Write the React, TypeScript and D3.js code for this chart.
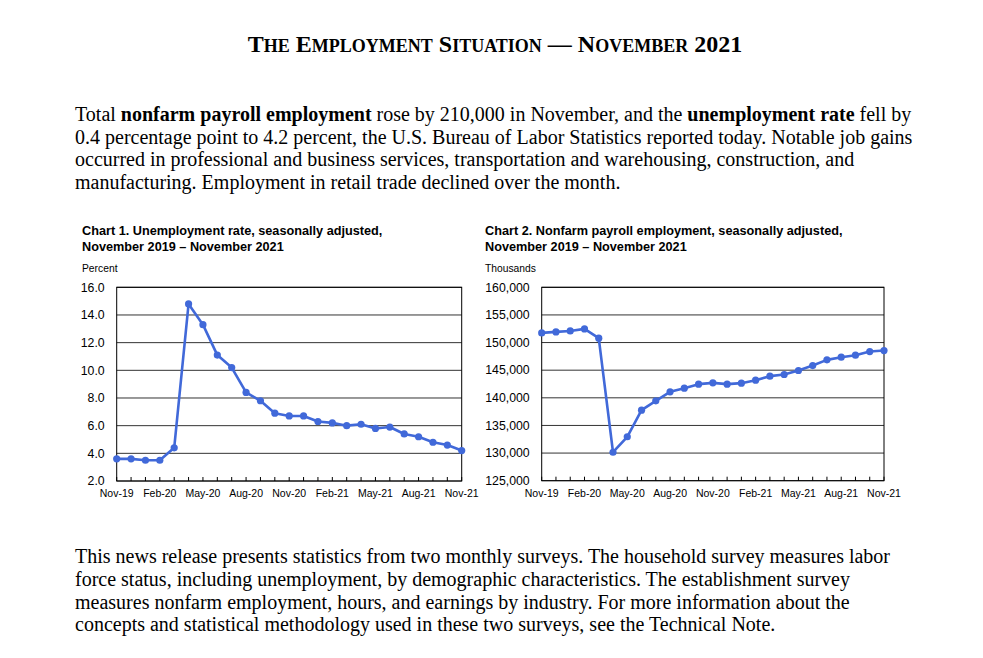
import React from 'react';
import * as d3 from 'd3';

const months = [
  'Nov-19', 'Dec-19', 'Jan-20', 'Feb-20', 'Mar-20', 'Apr-20', 'May-20', 'Jun-20', 'Jul-20',
  'Aug-20', 'Sep-20', 'Oct-20', 'Nov-20', 'Dec-20', 'Jan-21', 'Feb-21', 'Mar-21', 'Apr-21',
  'May-21', 'Jun-21', 'Jul-21', 'Aug-21', 'Sep-21', 'Oct-21', 'Nov-21',
];

const unemploymentRate = [
  3.6, 3.6, 3.5, 3.5, 4.4, 14.8, 13.3, 11.1, 10.2, 8.4, 7.8, 6.9, 6.7, 6.7, 6.3, 6.2, 6.0,
  6.1, 5.8, 5.9, 5.4, 5.2, 4.8, 4.6, 4.2,
];

const payrollThousands = [
  151750, 151930, 152100, 152470, 150800, 130150, 132950, 137770, 139460, 141080, 141750,
  142470, 142710, 142470, 142650, 143190, 143920, 144220, 144940, 145840, 146870, 147350,
  147710, 148370, 148550,
];

const rateTicks = [2, 4, 6, 8, 10, 12, 14, 16];
const payrollTicks = [125000, 130000, 135000, 140000, 145000, 150000, 155000, 160000];

const headline = ['The', 'Employment', 'Situation', '—', 'November', '2021'];

const topParagraph = [
  [
    { t: 'Total ' },
    { t: 'nonfarm payroll employment', b: true },
    { t: ' rose by 210,000 in November, and the ' },
    { t: 'unemployment rate', b: true },
    { t: ' fell by' },
  ],
  [{ t: '0.4 percentage point to 4.2 percent, the U.S. Bureau of Labor Statistics reported today. Notable job gains' }],
  [{ t: 'occurred in professional and business services, transportation and warehousing, construction, and' }],
  [{ t: 'manufacturing. Employment in retail trade declined over the month.' }],
];

const bottomParagraph = [
  'This news release presents statistics from two monthly surveys. The household survey measures labor',
  'force status, including unemployment, by demographic characteristics. The establishment survey',
  'measures nonfarm employment, hours, and earnings by industry. For more information about the',
  'concepts and statistical methodology used in these two surveys, see the Technical Note.',
];

const BLUE = '#4169d9';
const SANS = 'Liberation Sans, Arial, sans-serif';
const SERIF = 'Liberation Serif, Times New Roman, serif';

type ChartProps = {
  title: string[];
  unit: string;
  values: number[];
  ticks: number[];
  fmt: (v: number) => string;
  left: number;
  right: number;
  top: number;
  bottom: number;
  titleX: number;
};

const LineChart = ({ title, unit, values, ticks, fmt, left, right, top, bottom, titleX }: ChartProps) => {
  const x = d3.scalePoint<string>().domain(months).range([left, right]);
  const y = d3
    .scaleLinear()
    .domain([ticks[0], ticks[ticks.length - 1]])
    .range([bottom, top]);

  const line = d3
    .line<number>()
    .x((_, i) => x(months[i]) as number)
    .y((d) => y(d));

  return (
    <g>
      <text x={titleX} y={235} fontFamily={SANS} fontSize={12.7} fontWeight="bold">
        {title[0]}
      </text>
      <text x={titleX} y={251} fontFamily={SANS} fontSize={12.7} fontWeight="bold">
        {title[1]}
      </text>
      <text x={titleX} y={272} fontFamily={SANS} fontSize={10.3}>
        {unit}
      </text>

      {ticks.map((t) => (
        <g key={t}>
          <line x1={left} x2={right} y1={y(t)} y2={y(t)} stroke="#333" strokeWidth={1} />
          <text
            x={left - 12}
            y={y(t) + 4.3}
            textAnchor="end"
            fontFamily={SANS}
            fontSize={12.3}
          >
            {fmt(t)}
          </text>
        </g>
      ))}

      {months.map((m, i) => (
        <g key={m}>
          <line
            x1={x(m)}
            x2={x(m)}
            y1={bottom}
            y2={bottom - 4}
            stroke="#000"
            strokeWidth={1}
          />
          {i % 3 === 0 && (
            <text
              x={x(m)}
              y={bottom + 16}
              textAnchor="middle"
              fontFamily={SANS}
              fontSize={10.5}
            >
              {m}
            </text>
          )}
        </g>
      ))}

      <rect
        x={left}
        y={top}
        width={right - left}
        height={bottom - top}
        fill="none"
        stroke="#000"
        strokeWidth={1}
      />

      <path d={line(values) || ''} fill="none" stroke={BLUE} strokeWidth={2.6} strokeLinejoin="round" />
      {values.map((v, i) => (
        <circle key={i} cx={x(months[i])} cy={y(v)} r={3.6} fill={BLUE} />
      ))}
    </g>
  );
};

// small caps drawn by hand: first letter full size, the rest uppercase and smaller
const SmallCapsWord = ({ w }: { w: string }) => {
  if (!/^[A-Za-z]/.test(w)) return <tspan fontSize={24}>{w}</tspan>;
  return (
    <>
      <tspan fontSize={24}>{w[0]}</tspan>
      <tspan fontSize={18}>{w.slice(1).toUpperCase()}</tspan>
    </>
  );
};

export default function App() {
  const fmtRate = d3.format('.1f');
  const fmtPay = d3.format(',');

  return (
    <svg
      width={983}
      height={658}
      style={{ position: 'absolute', left: 0, top: 0, background: '#fff' }}
    >
      <rect width={983} height={658} fill="#fff" />
      <text x={495} y={52} textAnchor="middle" fontFamily={SERIF} fontWeight="bold" fontSize={24}>
        {headline.map((w, i) => (
          <React.Fragment key={i}>
            {i > 0 && <tspan fontSize={24}> </tspan>}
            <SmallCapsWord w={w} />
          </React.Fragment>
        ))}
      </text>

      {topParagraph.map((segs, i) => (
        <text key={i} x={75} y={121 + i * 22.7} fontFamily={SERIF} fontSize={20}>
          {segs.map((s, j) => (
            <tspan key={j} fontWeight={'b' in s && s.b ? 'bold' : 'normal'}>
              {s.t}
            </tspan>
          ))}
        </text>
      ))}

      <LineChart
        title={['Chart 1. Unemployment rate, seasonally adjusted,', 'November 2019 – November 2021']}
        unit="Percent"
        values={unemploymentRate}
        ticks={rateTicks}
        fmt={fmtRate}
        left={116.7}
        right={461.7}
        top={287.3}
        bottom={481}
        titleX={82}
      />
      <LineChart
        title={['Chart 2. Nonfarm payroll employment, seasonally adjusted,', 'November 2019 – November 2021']}
        unit="Thousands"
        values={payrollThousands}
        ticks={payrollTicks}
        fmt={fmtPay}
        left={541.7}
        right={884}
        top={287.3}
        bottom={480.7}
        titleX={485}
      />

      {bottomParagraph.map((l, i) => (
        <text key={i} x={75} y={563.3 + i * 22.6} fontFamily={SERIF} fontSize={20}>
          {l}
        </text>
      ))}
    </svg>
  );
}
